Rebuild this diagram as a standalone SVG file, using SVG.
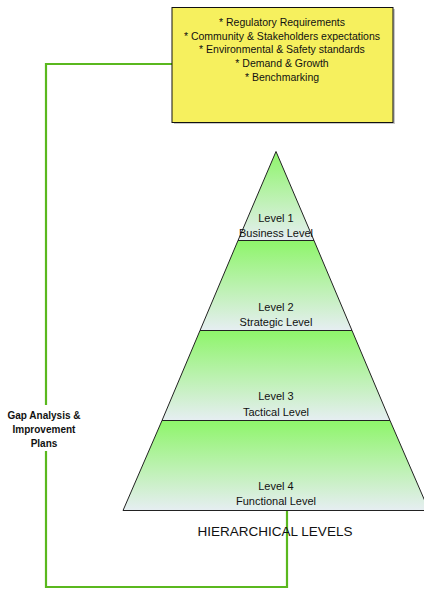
<svg xmlns="http://www.w3.org/2000/svg" width="424" height="590" viewBox="0 0 424 590">
<style>
.t{font-family:"Liberation Sans",Arial,sans-serif;fill:#111;text-anchor:middle}
.lv{font-size:11px}
.bx{font-size:10.5px}
.lvl{stroke:#222;stroke-width:1;fill:url(#g)}
.conn{fill:none;stroke:#5ab81e;stroke-width:2.2}
</style>
<defs>
<linearGradient id="g" x1="0" y1="0" x2="0" y2="1">
<stop offset="0" stop-color="#8ef56a"/>
<stop offset="1" stop-color="#e6eef2"/>
</linearGradient>
</defs>
<g id="connectors">
<polyline class="conn" points="172,64 46,64 46,587 287,587 287,511"/>
</g>
<g id="requirements">
<rect x="174" y="9" width="221" height="115" fill="#c8c8c8"/>
<rect x="172" y="7.5" width="221" height="115" fill="#f6f05e" stroke="#111" stroke-width="1"/>
<text class="t bx" x="282" y="26">* Regulatory Requirements</text>
<text class="t bx" x="282" y="40">* Community &amp; Stakeholders expectations</text>
<text class="t bx" x="282" y="53">* Environmental &amp; Safety standards</text>
<text class="t bx" x="282" y="67">* Demand &amp; Growth</text>
<text class="t bx" x="282" y="81">* Benchmarking</text>
</g>
<g id="level1">
<polygon class="lvl" points="276,151.5 314,240.5 238,240.5"/>
<text class="t lv" x="276" y="222">Level 1</text>
<text class="t lv" x="276" y="237">Business Level</text>
</g>
<g id="level2">
<polygon class="lvl" points="238,240.5 314,240.5 352,330.5 200,330.5"/>
<text class="t lv" x="276" y="311">Level 2</text>
<text class="t lv" x="276" y="326">Strategic Level</text>
</g>
<g id="level3">
<polygon class="lvl" points="200,330.5 352,330.5 390,420.5 162,420.5"/>
<text class="t lv" x="276" y="400">Level 3</text>
<text class="t lv" x="276" y="416">Tactical Level</text>
</g>
<g id="level4">
<polygon class="lvl" points="162,420.5 390,420.5 429,510.5 123,510.5"/>
<text class="t lv" x="276" y="490">Level 4</text>
<text class="t lv" x="276" y="505">Functional Level</text>
</g>
<g id="title">
<text class="t" x="275" y="536" font-size="13.5">HIERARCHICAL LEVELS</text>
</g>
<g id="gap">
<rect x="8" y="405" width="78" height="46" fill="#fff"/>
<text class="t" x="44" y="419" font-size="10" font-weight="bold">Gap Analysis &amp;</text>
<text class="t" x="44" y="433" font-size="10" font-weight="bold">Improvement</text>
<text class="t" x="44" y="447" font-size="10" font-weight="bold">Plans</text>
</g>
</svg>
